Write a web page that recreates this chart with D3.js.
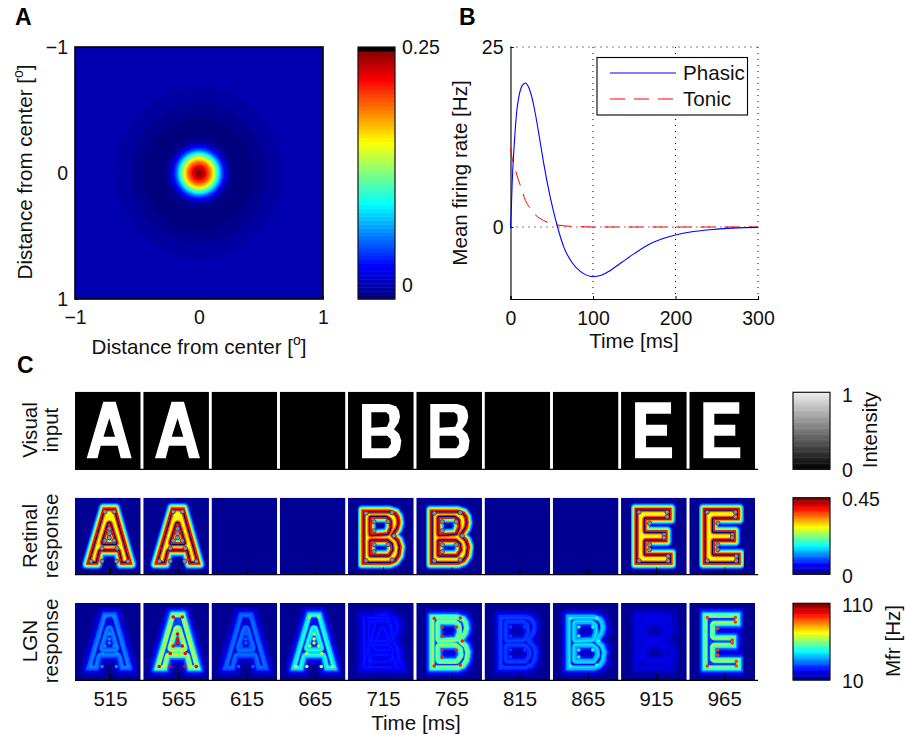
<!DOCTYPE html>
<html>
<head>
<meta charset="utf-8">
<script src="https://d3js.org/d3.v7.min.js"></script>
<style>
    body { margin: 0; background: #fff; }
    text { font-family: "Liberation Sans", sans-serif; font-size: 20.6px; fill: #111; }
    .panelLetter { font-weight: bold; font-size: 23px; fill: #000; }
    .axis path, .axis line { stroke: #000; }
    .axis text { font-size: 19.5px; font-family: "Liberation Sans", sans-serif; fill: #111; }
    .frameAxis text { font-size: 20.4px; }
</style>
</head>
<body>
<div id="chart"></div>
<script>
// panel A, radial profile of the receptive field
var rfRadius = [1.5, 0.68, 0.55, 0.45, 0.30, 0.28, 0.26, 0.25, 0.24, 0.23, 0.22, 0.21, 0.20, 0.19, 0.18, 0.17, 0.16, 0.15, 0.14, 0.13, 0.12, 0.11, 0.10, 0.09, 0.08, 0.07, 0.06, 0.05, 0.04, 0.03, 0.02, 0.01];
var rfValue = [0, -0.0045, -0.009, -0.013, -0.013, -0.012, -0.009, -0.005, 0.0, 0.006, 0.014, 0.02, 0.03, 0.042, 0.056, 0.072, 0.088, 0.104, 0.122, 0.138, 0.152, 0.165, 0.178, 0.19, 0.2, 0.21, 0.219, 0.227, 0.234, 0.24, 0.245, 0.25];
var rfTicks = [-1, 0, 1];
var rfBarTicks = [0, 0.25];

// panel B
var kernelTime = [0, 1, 2, 4, 6, 8, 10, 14, 18, 22, 26, 30, 35, 40, 45, 50, 57, 65, 75, 85, 100, 110, 120, 135, 150, 170, 185, 200, 220, 250, 275, 300];
var phasic = [0, 2.5, 6, 10.5, 14, 16.5, 18, 19.6, 20, 19.4, 18, 15.8, 12.5, 9, 5.9, 3.2, 0, -2.9, -5, -6.2, -6.9, -6.7, -6.1, -4.9, -3.7, -2.3, -1.6, -1.1, -0.65, -0.3, -0.12, -0.05];
var tonic = [11, 10.2, 9.5, 8.7, 7.9, 7.1, 6.4, 5.1, 3.7, 2.9, 2.2, 1.7, 1.25, 0.9, 0.65, 0.45, 0.28, 0.16, 0.08, 0.04, 0, 0, 0, 0, 0, 0, 0, 0, 0, 0, 0, 0];
var kernelTimeTicks = [0, 100, 200, 300];
var kernelRateTicks = [0, 25];

// panel C
var frameTimes = [515, 565, 615, 665, 715, 765, 815, 865, 915, 965];
var visualGlyphs = ["A", "A", "", "", "B", "B", "", "", "E", "E"];
var retinalGlyphs = ["A", "A", "", "", "B", "B", "", "", "E", "E"];
var lgnGlyphs = ["A", "A", "A", "A", "AB", "B", "B", "B", "BE", "E"];
var lgnGain = [0.24, 0.56, 0.22, 0.40, 0.12, 0.52, 0.17, 0.34, 0.08, 0.52];
var lgnCornerValue = [0.26, 0.88, 0.22, 0.55, 0.12, 0.85, 0.18, 0.40, 0.08, 0.82];

// letter outlines, in pixels of the stimulus frame
var glyphs = {
    A: [[[11.7, 66.6], [28.3, 10], [40.7, 10], [56.7, 66.6], [45.7, 66.6], [42.7, 54], [25.7, 54], [22.5, 66.6]],
        [[34.3, 26.5], [28.5, 45], [40, 45]]],
    B: [[[14, 12.3], [41, 12.3], [48, 14.5], [51, 19], [52, 25], [50.5, 31], [46, 37.5], [51, 42], [53.3, 49], [52, 58], [48, 64], [42, 66.6], [14, 66.6]],
        [[23.3, 20.6], [38, 20.6], [41, 23], [41.5, 29], [39, 35], [23.3, 36]],
        [[23.3, 44], [39, 44], [42.5, 47], [43, 52], [40, 56.6], [23.3, 56.6]]],
    E: [[[14, 10.6], [50, 10.6], [50, 22], [25, 22], [25, 33], [46, 33], [46, 44], [25, 44], [25, 55.5], [51, 55.5], [51, 66.6], [14, 66.6]]]
};
var glyphCorners = {
    A: [[16, 63.5], [27, 63.5], [41.5, 63.5], [53, 63.5], [30, 14], [39, 14], [27, 50.5], [42, 50.5], [34.3, 31], [34.3, 36], [34.3, 40], [30, 43], [39, 43]],
    B: [[18, 15.5], [18, 63], [44, 15], [44, 62], [26, 24], [40, 24], [26, 33], [26, 47], [40, 47], [26, 54], [46, 38]],
    E: [[18, 14.5], [46, 14.5], [46, 19], [28.5, 25.5], [28.5, 52], [43, 37], [43, 40], [18, 63], [47, 58.5], [47, 63], [28.5, 47]]
};

// distance from the letter edge against response, read from the frames
var retinalOuterDist = [5.6, 4.7, 3.8, 3, 2.2, 1.5, 0.8];
var retinalOuterValue = [0.13, 0.22, 0.32, 0.42, 0.54, 0.66, 0.8];
var retinalInnerDist = [3.9, 2.5, 1.3];
var retinalInnerValue = [0.8, 0.0, 0.86];
var retinalCore = 0.62;
var lgnOuterDist = [7.5, 6, 4.5, 3, 1.6, 0.7];
var lgnOuterValue = [0.06, 0.12, 0.2, 0.32, 0.5, 0.7];
var lgnInnerDist = [4.4, 3.2, 1.6];
var lgnInnerValue = [0.75, 0.95, 0.8];
var lgnCore = 0.28;

var colorbarSteps = d3.range(64);
var grayBarTicks = [0, 1];
var retinalBarTicks = [0, 0.45];
var lgnBarTicks = [10, 110];

var jetStops = ["#00007f", "#0000ff", "#00ffff", "#ffff00", "#ff0000", "#7f0000"];
var jet = d3.scaleLinear().domain([0, 0.125, 0.375, 0.625, 0.875, 1]).range(jetStops).clamp(true);
function jet64(f) {
    return jet(Math.round(f * 63) / 63);
}

var svg = d3.select("#chart").append("svg")
    .attr("width", 905)
    .attr("height", 735)
    .style("display", "block");
var defs = svg.append("defs");

function label(txt, x, y, rotate, anchor) {
    var t = svg.append("text")
        .attr("text-anchor", anchor || "middle")
        .attr("transform", "translate(" + x + "," + y + ")" + (rotate ? " rotate(-90)" : ""))
        .text(txt);
    return t;
}

function degreeLabel(x, y, rotate) {
    var t = label("Distance from center [", x, y, rotate);
    t.append("tspan").attr("dy", -9).style("font-size", "14px").text("o");
    t.append("tspan").attr("dy", 9).text("]");
}

svg.append("text").attr("class", "panelLetter").attr("x", 15).attr("y", 25).text("A");
svg.append("text").attr("class", "panelLetter").attr("x", 459).attr("y", 25).text("B");
svg.append("text").attr("class", "panelLetter").attr("x", 17).attr("y", 373).text("C");

// draws a vertical colorbar with 64 color levels
function colorbar(x, y0, y1, color) {
    var bar = svg.append("g");
    var yStep = d3.scaleLinear().domain([0, 64]).range([y1, y0]);
    bar.selectAll("rect")
        .data(colorbarSteps)
        .enter().append("rect")
        .attr("x", x)
        .attr("width", 37)
        .attr("y", function (d) { return yStep(d + 1); })
        .attr("height", function (d) { return yStep(d) - yStep(d + 1) + 0.5; })
        .attr("fill", function (d) { return color(d / 63); });
    bar.append("rect")
        .attr("x", x).attr("y", y0)
        .attr("width", 37).attr("height", y1 - y0)
        .attr("fill", "none")
        .attr("stroke", "#111")
        .attr("stroke-width", 1.2);
}

function barLabels(scale, ticks, x, fmt) {
    var g = svg.append("g")
        .attr("class", "axis")
        .attr("transform", "translate(" + x + ",0)")
        .call(d3.axisRight(scale).tickValues(ticks).tickSize(0).tickPadding(7).tickFormat(fmt));
    g.select(".domain").remove();
}

// ---- panel A
function drawField() {
    var x = d3.scaleLinear().domain([-1, 1]).range([75, 323]);
    var y = d3.scaleLinear().domain([-1, 1]).range([47, 299]);
    var fieldMin = -0.0146;
    var value = d3.scaleLinear().domain([fieldMin, 0.25]).range([0, 1]);

    defs.append("clipPath").attr("id", "fieldClip").append("rect")
        .attr("x", 75).attr("y", 47).attr("width", 248).attr("height", 252);

    svg.append("g")
        .attr("clip-path", "url(#fieldClip)")
        .selectAll("ellipse")
        .data(rfRadius)
        .enter().append("ellipse")
        .attr("cx", x(0))
        .attr("cy", y(0))
        .attr("rx", function (d) { return x(d) - x(0); })
        .attr("ry", function (d) { return y(d) - y(0); })
        .attr("fill", function (d, i) { return jet64(value(rfValue[i])); });

    svg.append("rect")
        .attr("x", 75).attr("y", 47).attr("width", 248).attr("height", 252)
        .attr("fill", "none").attr("stroke", "#000").attr("stroke-width", 1.6);

    var xAxis = svg.append("g").attr("class", "axis")
        .attr("transform", "translate(0,299)")
        .call(d3.axisBottom(x).tickValues(rfTicks).tickSize(-3).tickPadding(11).tickFormat(d3.format("d")));
    var yAxis = svg.append("g").attr("class", "axis")
        .attr("transform", "translate(75,0)")
        .call(d3.axisLeft(y).tickValues(rfTicks).tickSize(-3).tickPadding(7).tickFormat(d3.format("d")));
    xAxis.select(".domain").remove();
    yAxis.select(".domain").remove();

    degreeLabel(199, 354, false);
    degreeLabel(32, 172, true);

    colorbar(358, 47, 299, function (f) { return f > 0.985 ? "#000" : jet(f); });
    var barY = d3.scaleLinear().domain([fieldMin, 0.25]).range([299, 47]);
    barLabels(barY, rfBarTicks, 395, function (d) { return d === 0 ? "0" : "0.25"; });
}

// ---- panel B
function drawKernels() {
    var x = d3.scaleLinear().domain([0, 300]).range([510.5, 758]);
    var y = d3.scaleLinear().domain([-10, 25]).range([299, 47]);

    var grid = svg.append("g")
        .attr("fill", "none")
        .attr("stroke", "#000")
        .attr("stroke-dasharray", "1,5");
    kernelTimeTicks.slice(1).forEach(function (t) {
        grid.append("line").attr("x1", x(t)).attr("x2", x(t)).attr("y1", y(25)).attr("y2", y(-10));
    });
    kernelRateTicks.forEach(function (r) {
        grid.append("line").attr("x1", x(0)).attr("x2", x(300)).attr("y1", y(r)).attr("y2", y(r));
    });

    svg.append("g").attr("class", "axis")
        .attr("transform", "translate(0,299)")
        .call(d3.axisBottom(x).tickValues(kernelTimeTicks).tickSize(-3).tickPadding(12))
        .select(".domain").attr("stroke-width", 1.1);
    svg.append("g").attr("class", "axis")
        .attr("transform", "translate(510.5,0)")
        .call(d3.axisLeft(y).tickValues(kernelRateTicks).tickSize(-3).tickPadding(7).tickFormat(d3.format("d")))
        .select(".domain").attr("stroke-width", 1.1);

    var line = d3.line()
        .x(function (d) { return x(d[0]); })
        .y(function (d) { return y(d[1]); })
        .curve(d3.curveMonotoneX);

    svg.append("path")
        .attr("d", line(d3.zip(kernelTime, tonic)))
        .attr("fill", "none")
        .attr("stroke", "#ff0000")
        .attr("stroke-width", 1)
        .attr("stroke-dasharray", "15,9");
    svg.append("path")
        .attr("d", line(d3.zip(kernelTime, phasic)))
        .attr("fill", "none")
        .attr("stroke", "#0000ff")
        .attr("stroke-width", 1.1);

    // legend
    svg.append("rect")
        .attr("x", 597).attr("y", 57.5).attr("width", 150.5).attr("height", 57.5)
        .attr("fill", "#fff").attr("stroke", "#000").attr("stroke-width", 1.1);
    svg.append("line")
        .attr("x1", 610).attr("x2", 676).attr("y1", 73).attr("y2", 73)
        .attr("stroke", "#0000ff").attr("stroke-width", 1.1);
    svg.append("line")
        .attr("x1", 610).attr("x2", 676).attr("y1", 99).attr("y2", 99)
        .attr("stroke", "#ff0000").attr("stroke-dasharray", "15,9");
    label("Phasic", 683, 80, false, "start");
    label("Tonic", 683, 106, false, "start");

    label("Time [ms]", 634, 348, false);
    label("Mean firing rate [Hz]", 467, 173, true);
}

// ---- panel C
var time = d3.scaleLinear().domain([515, 965]).range([110, 724.3]);
var px = d3.scaleLinear().domain([0, 66]).range([0, 66]);
var glyphLine = d3.line()
    .x(function (d) { return px(d[0]); })
    .y(function (d) { return px(d[1]); })
    .curve(d3.curveLinearClosed);

function glyphPath(name) {
    return glyphs[name].map(function (ring) { return glyphLine(ring); }).join(" ");
}

["A", "B", "E"].forEach(function (name) {
    defs.append("clipPath").attr("id", "inside" + name).append("path")
        .attr("d", glyphPath(name))
        .attr("clip-rule", "evenodd");
});
var blur = defs.append("filter").attr("id", "soft")
    .attr("x", "-10%").attr("y", "-10%").attr("width", "120%").attr("height", "120%");
blur.append("feGaussianBlur").attr("stdDeviation", 0.5);

function edgeBands(g, name, dist, color) {
    g.selectAll("path.band")
        .data(dist)
        .enter().append("path")
        .attr("class", "band")
        .attr("d", glyphPath(name))
        .attr("fill", "none")
        .attr("stroke-linejoin", "round")
        .attr("stroke-width", function (d) { return 2 * d; })
        .attr("stroke", function (d, i) { return color(i); });
}

function drawLetter(g, name, outerDist, outerColor, core, innerDist, innerColor) {
    var outer = g.append("g").attr("class", "outer");
    edgeBands(outer, name, outerDist, outerColor);
    var inner = g.append("g").attr("clip-path", "url(#inside" + name + ")");
    inner.append("path")
        .attr("d", glyphPath(name))
        .attr("fill", core)
        .attr("fill-rule", "evenodd");
    edgeBands(inner, name, innerDist, innerColor);
}

function frameRow(rowName, top, bottom, background) {
    defs.append("clipPath").attr("id", "frame" + rowName).append("rect")
        .attr("width", 65.7).attr("height", bottom - top);
    return svg.selectAll("g." + rowName)
        .data(frameTimes)
        .enter().append("g")
        .attr("class", rowName)
        .attr("transform", function (d) { return "translate(" + (time(d) - 35) + "," + top + ")"; })
        .attr("clip-path", "url(#frame" + rowName + ")")
        .each(function () {
            d3.select(this).append("rect")
                .attr("width", 65.7).attr("height", bottom - top)
                .attr("fill", background);
        })
        .append("g")
        .attr("filter", "url(#soft)");
}

function rowAxis(y, stroke, showLabels) {
    var axis = d3.axisBottom(time).tickValues(frameTimes).tickSize(-7).tickPadding(11);
    if (!showLabels) axis.tickFormat("");
    var g = svg.append("g").attr("class", "axis frameAxis")
        .attr("transform", "translate(0," + y + ")")
        .call(axis);
    g.select(".domain").attr("d", "M75,0H758").attr("stroke", stroke).attr("stroke-width", 1.2);
}

function drawFrames() {
    frameRow("visual", 391.7, 469, "#000").each(function (d, i) {
        if (!visualGlyphs[i]) return;
        d3.select(this).append("path")
            .attr("d", glyphPath(visualGlyphs[i]))
            .attr("fill", "#fff")
            .attr("fill-rule", "evenodd");
    });

    frameRow("retinal", 497.7, 574.3, jet(0.02)).each(function (d, i) {
        var name = retinalGlyphs[i];
        if (!name) return;
        var g = d3.select(this);
        drawLetter(g, name,
            retinalOuterDist, function (k) { return jet(retinalOuterValue[k]); },
            jet(retinalCore),
            retinalInnerDist, function (k) { return jet(retinalInnerValue[k]); });
        g.selectAll("circle")
            .data(glyphCorners[name])
            .enter().append("circle")
            .attr("cx", function (c) { return px(c[0]); })
            .attr("cy", function (c) { return px(c[1]); })
            .attr("r", 2.2)
            .attr("fill", "#8b8b9a")
            .attr("stroke", "#223")
            .attr("stroke-width", 0.6);
    });

    frameRow("lgn", 603, 680, jet(0.02)).each(function (d, i) {
        var g = d3.select(this);
        var gain = lgnGain[i];
        var level = function (v) { return jet(0.03 + gain * v); };
        lgnGlyphs[i].split("").forEach(function (name) {
            var layer = g.append("g").style("mix-blend-mode", "lighten");
            drawLetter(layer, name,
                lgnOuterDist, function (k) { return level(lgnOuterValue[k]); },
                level(lgnCore),
                lgnInnerDist, function (k) { return level(lgnInnerValue[k]); });
            layer.selectAll("circle")
                .data(glyphCorners[name])
                .enter().append("circle")
                .attr("cx", function (c) { return px(c[0]); })
                .attr("cy", function (c) { return px(c[1]); })
                .attr("r", 1.8)
                .attr("fill", jet(lgnCornerValue[i]));
        });
    });

    rowAxis(469.3, "#888", false);
    rowAxis(574.6, "#000", false);
    rowAxis(680.3, "#555", true);

    label("Time [ms]", 416, 730, false);
    label("Visual", 37, 430, true);
    label("input", 58, 430, true);
    label("Retinal", 37, 536, true);
    label("response", 58, 536, true);
    label("LGN", 37, 641, true);
    label("response", 58, 641, true);

    colorbar(793, 392.3, 469.3, function (f) { return d3.rgb(f * 235, f * 235, f * 235); });
    colorbar(793, 497.7, 574.3, jet);
    colorbar(793, 603.3, 680, jet);
    barLabels(d3.scaleLinear().domain([0, 1]).range([470, 395]), grayBarTicks, 835, d3.format("d"));
    barLabels(d3.scaleLinear().domain([0, 0.45]).range([576, 499]), retinalBarTicks, 835, function (d) { return d === 0 ? "0" : "0.45"; });
    barLabels(d3.scaleLinear().domain([10, 110]).range([681.5, 605]), lgnBarTicks, 835, d3.format("d"));
    label("Intensity", 877, 430, true);
    label("Mfr [Hz]", 900, 641, true);
}

drawField();
drawKernels();
drawFrames();
</script>
</body>
</html>
